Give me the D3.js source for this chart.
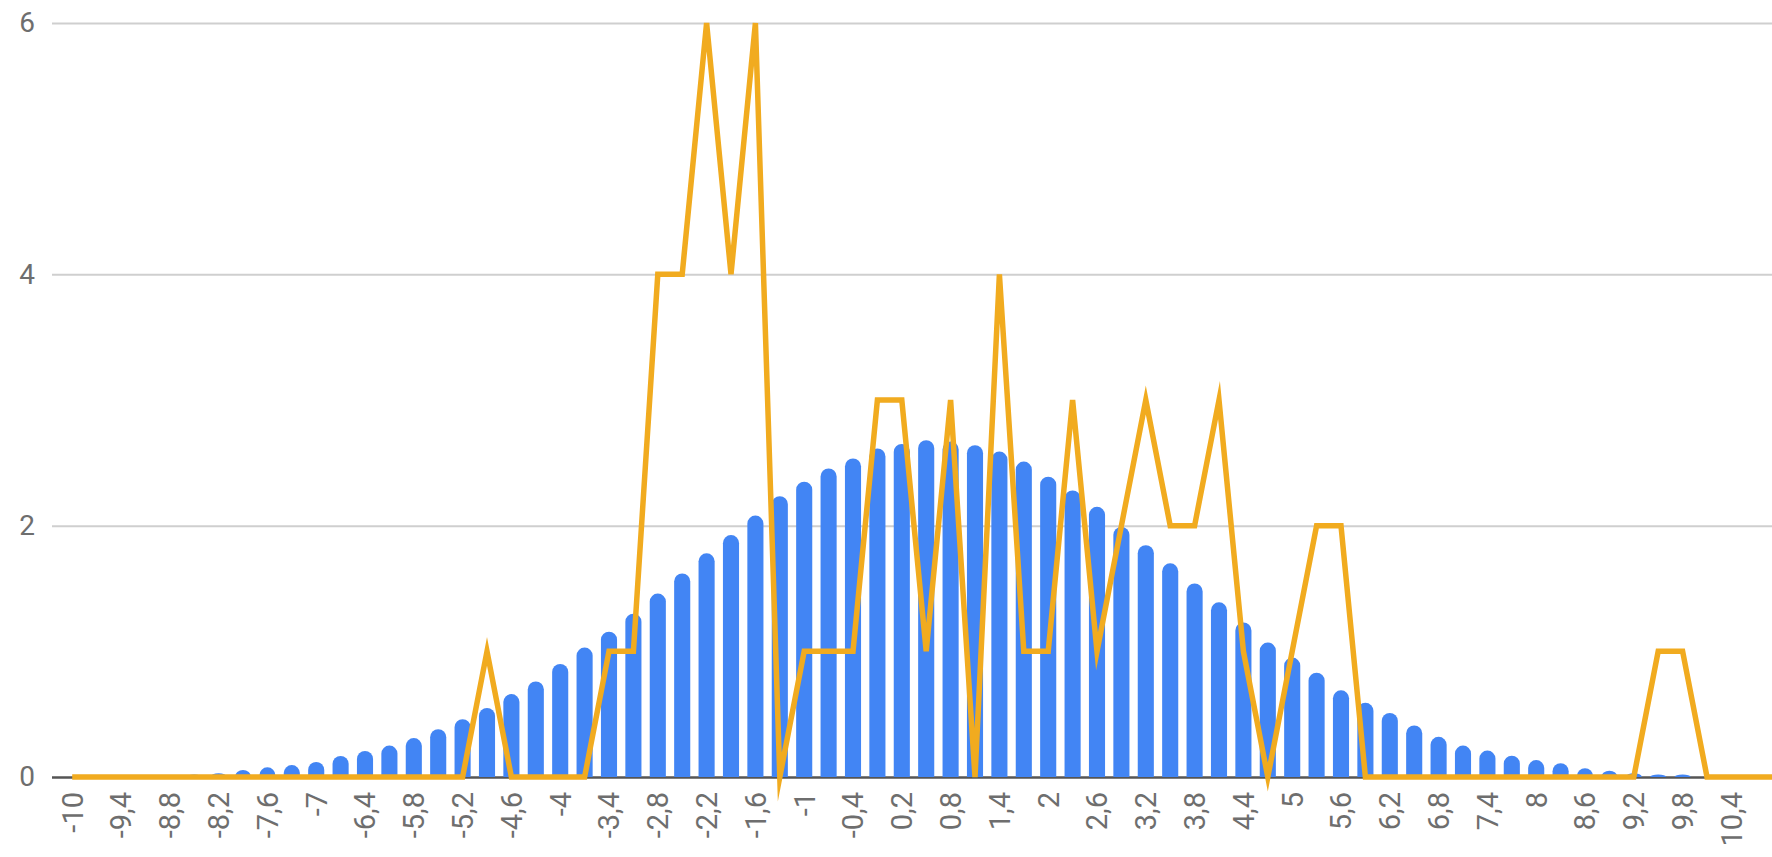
<!DOCTYPE html>
<html>
<head>
<meta charset="utf-8">
<script src="https://cdn.jsdelivr.net/npm/d3@7"></script>
<style>
  html, body { margin: 0; padding: 0; background: #ffffff; }
  svg { display: block; }
</style>
</head>
<body>
<svg id="chart" width="1772" height="857"></svg>
<script>
// ---- Data ----
const categories = [
  -10, -9.7, -9.4, -9.1, -8.8, -8.5, -8.2, -7.9, -7.6, -7.3,
  -7, -6.7, -6.4, -6.1, -5.8, -5.5, -5.2, -4.9, -4.6, -4.3,
  -4, -3.7, -3.4, -3.1, -2.8, -2.5, -2.2, -1.9, -1.6, -1.3,
  -1, -0.7, -0.4, -0.1, 0.2, 0.5, 0.8, 1.1, 1.4, 1.7,
  2, 2.3, 2.6, 2.9, 3.2, 3.5, 3.8, 4.1, 4.4, 4.7,
  5, 5.3, 5.6, 5.9, 6.2, 6.5, 6.8, 7.1, 7.4, 7.7,
  8, 8.3, 8.6, 8.9, 9.2, 9.5, 9.8, 10.1, 10.4, 10.7,
  11
];

const barValues = [
  0, 0, 0, 0, 0, 0.02, 0.03, 0.056, 0.077, 0.095,
  0.12, 0.167, 0.207, 0.25, 0.31, 0.38, 0.46, 0.55, 0.66, 0.76,
  0.90, 1.03, 1.156, 1.30, 1.46, 1.62, 1.78, 1.925, 2.08, 2.235,
  2.35, 2.455, 2.535, 2.615, 2.65, 2.68, 2.67, 2.64, 2.59, 2.51,
  2.39, 2.28, 2.15, 1.99, 1.845, 1.70, 1.54, 1.39, 1.23, 1.07,
  0.95, 0.83, 0.69, 0.59, 0.51, 0.41, 0.32, 0.25, 0.21, 0.17,
  0.135, 0.11, 0.07, 0.05, 0.03, 0.02, 0.02, 0, 0, 0,
  0
];

const lineValues = [
  0, 0, 0, 0, 0, 0, 0, 0, 0, 0,
  0, 0, 0, 0, 0, 0, 0, 1, 0, 0,
  0, 0, 1, 1, 4, 4, 6, 4, 6, 0,
  1, 1, 1, 3, 3, 1, 3, 0, 4, 1,
  1, 3, 1, 2, 3, 2, 2, 3, 1, 0,
  1, 2, 2, 0, 0, 0, 0, 0, 0, 0,
  0, 0, 0, 0, 0, 1, 1, 0, 0, 0,
  0
];

const xTickLabels = [
  "-10", "-9,4", "-8,8", "-8,2", "-7,6", "-7", "-6,4", "-5,8", "-5,2", "-4,6",
  "-4", "-3,4", "-2,8", "-2,2", "-1,6", "-1", "-0,4", "0,2", "0,8", "1,4",
  "2", "2,6", "3,2", "3,8", "4,4", "5", "5,6", "6,2", "6,8", "7,4",
  "8", "8,6", "9,2", "9,8", "10,4"
];
const yTicks = [0, 2, 4, 6];

// ---- Layout ----
const W = 1772, H = 857;
const step = 24.4;
const plotLeft = 60, plotRight = plotLeft + step * categories.length;
const gridLeft = 52;
const yTop = 23, yBottom = 777;

const svg = d3.select("#chart");
svg.append("rect").attr("width", W).attr("height", H).attr("fill", "#ffffff");

const x = d3.scaleBand()
  .domain(categories.map(String))
  .range([plotLeft, plotRight])
  .paddingInner(0.34)
  .paddingOuter(0.17);

const y = d3.scaleLinear().domain([0, 6]).range([yBottom, yTop]);

// Gridlines + y labels via axis
const yAxis = d3.axisLeft(y)
  .tickValues(yTicks)
  .tickSize(-(W - gridLeft))
  .tickPadding(0)
  .tickFormat(d3.format("d"));

const gy = svg.append("g")
  .attr("transform", `translate(${gridLeft},0)`)
  .call(yAxis);
gy.select(".domain").remove();
gy.selectAll(".tick line")
  .attr("stroke", "#cfcfcf")
  .attr("stroke-width", 2)
  .attr("x1", 0);
gy.selectAll(".tick text")
  .attr("x", -17)
  .attr("fill", "#6e6e6e")
  .style("font-family", "Roboto, Arial, sans-serif")
  .style("font-size", "28px")
  .attr("text-anchor", "end");

// Baseline
gy.selectAll(".tick").filter(d => d === 0).select("line")
  .attr("stroke", "#555555")
  .attr("stroke-width", 2.5);

// Bars with rounded tops
const bw = x.bandwidth();
function barPath(d, i) {
  const v = barValues[i];
  const x0 = x(String(d)), x1 = x0 + bw;
  const yb = y(0), yt = y(v);
  const h = yb - yt;
  if (h <= 0) return "";
  const r = Math.min(bw / 2, h);
  return `M${x0},${yb} L${x0},${yt + r} A${bw / 2},${r} 0 0 1 ${x1},${yt + r} L${x1},${yb} Z`;
}
svg.append("g")
  .selectAll("path")
  .data(categories)
  .join("path")
  .attr("d", (d, i) => barPath(d, i))
  .attr("fill", "#4285f4");

// Line
const cx = d => x(String(d)) + bw / 2;
const line = d3.line()
  .x((d, i) => cx(categories[i]))
  .y(d => y(d));
svg.append("path")
  .datum(lineValues)
  .attr("d", line)
  .attr("fill", "none")
  .attr("stroke", "#f1ab1f")
  .attr("stroke-width", 5.5)
  .attr("stroke-linejoin", "miter")
  .attr("stroke-miterlimit", 10);

// X axis labels (every other category, as many as there are tick labels)
const labelCats = categories.filter((d, i) => i % 2 === 0).slice(0, xTickLabels.length);
const xAxis = d3.axisBottom(x)
  .tickValues(labelCats.map(String))
  .tickSize(0)
  .tickFormat((d, i) => xTickLabels[i]);
const gx = svg.append("g")
  .attr("transform", `translate(0,${yBottom})`)
  .call(xAxis);
gx.select(".domain").remove();
gx.selectAll(".tick text")
  .attr("transform", "translate(0,15) rotate(-90)")
  .attr("x", 0)
  .attr("y", 0)
  .attr("dy", "0.36em")
  .attr("text-anchor", "end")
  .attr("fill", "#6e6e6e")
  .style("font-family", "Roboto, Arial, sans-serif")
  .style("font-size", "29px");
</script>
</body>
</html>
